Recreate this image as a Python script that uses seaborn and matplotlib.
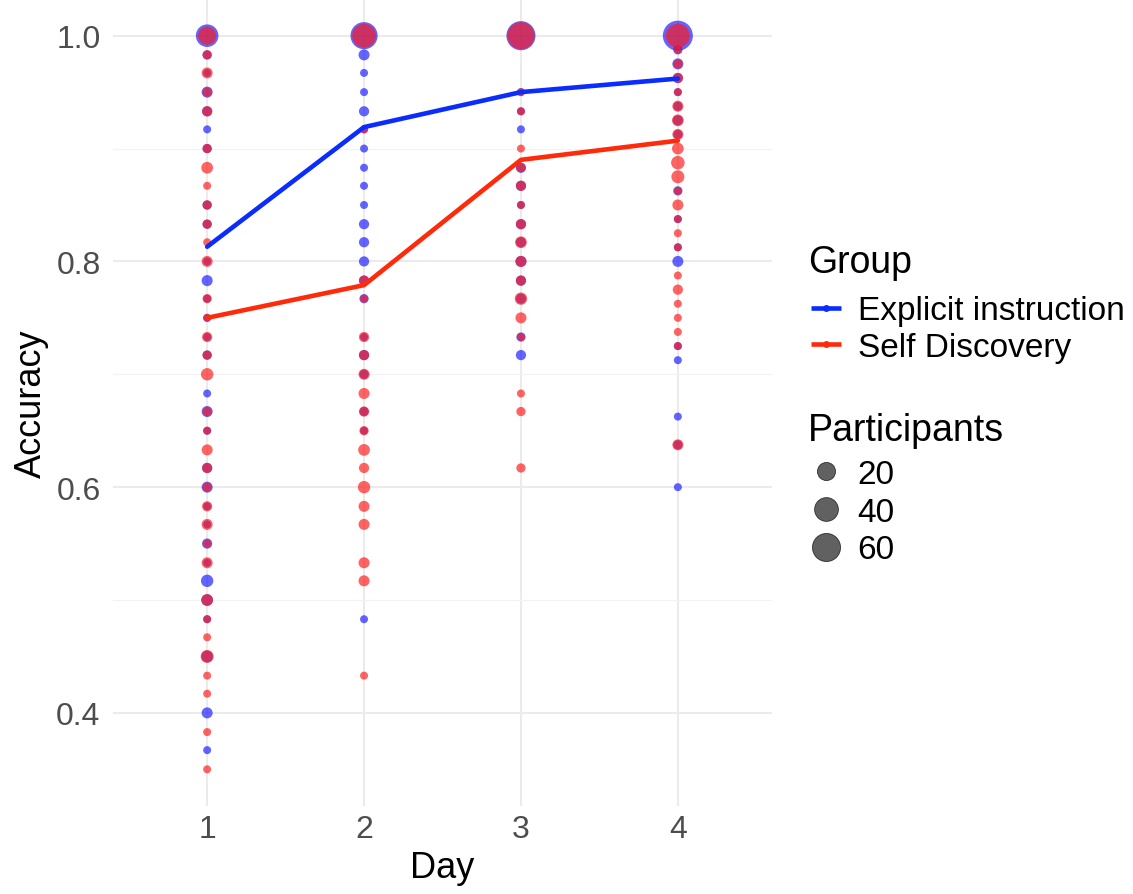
import numpy as np
import pandas as pd
import matplotlib
matplotlib.use("Agg")
import matplotlib.pyplot as plt
from matplotlib.lines import Line2D
import seaborn as sns

# ---- data -------------------------------------------------------------
groups = ["Explicit instruction", "Self Discovery"]
days = [1, 2, 3, 4]

# accuracy level and number of participants at that level, per group and day
ei_d1_acc = [1.0, .983, .967, .95, .933, .917, .9, .85, .833, .8, .783, .767, .75, .733, .717,
             .683, .667, .65, .617, .6, .583, .567, .55, .533, .517, .5, .483, .45, .4, .367]
ei_d1_n = [35, 3, 2, 5, 4, 2, 3, 3, 3, 2, 5, 2, 2, 2, 3, 2, 5, 2, 4, 5, 2, 2, 4, 2, 7, 6, 2, 6, 5, 2]

sd_d1_acc = [1.0, .983, .967, .95, .933, .9, .883, .867, .85, .833, .817, .8, .767, .75, .733, .717,
             .7, .667, .65, .633, .617, .6, .583, .567, .55, .533, .5, .483, .467, .45, .433, .417,
             .383, .35]
sd_d1_n = [20, 3, 5, 3, 4, 3, 6, 2, 3, 3, 2, 5, 3, 2, 4, 3, 7, 3, 2, 5, 4, 3, 4, 5, 2, 5, 6, 2, 2,
           8, 2, 2, 2, 2]

ei_d2_acc = [1.0, .983, .967, .95, .933, .917, .9, .883, .867, .85, .833, .817, .8, .783, .767,
             .733, .717, .7, .667, .65, .483]
ei_d2_n = [55, 5, 2, 2, 4, 2, 2, 2, 2, 2, 4, 4, 4, 4, 3, 2, 4, 3, 3, 2, 2]

sd_d2_acc = [1.0, .917, .783, .767, .733, .717, .7, .683, .667, .65, .633, .617, .6, .583, .567,
             .533, .517, .433]
sd_d2_n = [40, 2, 4, 2, 4, 4, 5, 5, 4, 3, 6, 4, 7, 5, 5, 5, 5, 2]

ei_d3_acc = [1.0, .95, .933, .917, .883, .867, .85, .833, .817, .8, .783, .767, .733, .717]
ei_d3_n = [65, 2, 2, 2, 4, 4, 2, 4, 4, 5, 4, 4, 3, 4]

sd_d3_acc = [1.0, .95, .933, .9, .883, .867, .85, .833, .817, .8, .783, .767, .75, .733, .683,
             .667, .617]
sd_d3_n = [55, 2, 2, 2, 3, 4, 2, 4, 6, 5, 4, 7, 5, 2, 2, 3, 3]

ei_d4_acc = [1.0, .9875, .975, .9625, .95, .9375, .925, .9125, .8625, .8375, .8125, .8, .725,
             .7125, .6625, .6375, .6]
ei_d4_n = [70, 3, 5, 4, 2, 3, 4, 3, 3, 2, 2, 5, 2, 2, 2, 3, 2]

sd_d4_acc = [1.0, .9875, .975, .9625, .95, .9375, .925, .9125, .9, .8875, .875, .8625, .85,
             .8375, .825, .8125, .7875, .775, .7625, .75, .7375, .725, .6375]
sd_d4_n = [40, 2, 3, 4, 2, 5, 6, 5, 6, 9, 8, 2, 5, 2, 2, 2, 2, 4, 2, 2, 2, 2, 5]

# mean accuracy per day
ei_mean = [0.813, 0.919, 0.950, 0.962]
sd_mean = [0.750, 0.779, 0.890, 0.907]

size_breaks = [20, 40, 60]

# ---- frames ------------------------------------------------------------
ei_sets = [(ei_d1_acc, ei_d1_n), (ei_d2_acc, ei_d2_n), (ei_d3_acc, ei_d3_n), (ei_d4_acc, ei_d4_n)]
sd_sets = [(sd_d1_acc, sd_d1_n), (sd_d2_acc, sd_d2_n), (sd_d3_acc, sd_d3_n), (sd_d4_acc, sd_d4_n)]

rows = []
for grp, sets in zip(groups, [ei_sets, sd_sets]):
    for day, (acc, n) in zip(days, sets):
        for a, c in zip(acc, n):
            rows.append({"Day": day, "Accuracy": a, "Participants": c, "Group": grp})
points = pd.DataFrame(rows)

means = pd.DataFrame({
    "Day": days * 2,
    "Accuracy": ei_mean + sd_mean,
    "Group": [groups[0]] * 4 + [groups[1]] * 4,
})

# ---- styling -------------------------------------------------------------
sns.set_theme(style="white")
plt.rcParams["font.family"] = ["Liberation Sans", "DejaVu Sans"]

line_colors = {groups[0]: "#0A2CFF", groups[1]: "#FF2A0A"}
dot_colors = {groups[0]: "#1A1AFF", groups[1]: "#FF1A1A"}

DPI = 100
W, H = 1133, 895
px_to_pt = 72.0 / DPI
cmin, cmax = 1, 70


def area_for(count):
    # area-style size scale: diameter 1..6 units, ~5 px per unit
    d_px = 5.0 * (1 + 5 * np.sqrt((count - cmin) / (cmax - cmin)))
    return (d_px * px_to_pt) ** 2


size_map = {c: area_for(c) for c in sorted(points["Participants"].unique())}

fig = plt.figure(figsize=(W / DPI, H / DPI), dpi=DPI)
ax = fig.add_axes([113 / W, 1 - 807 / H, (772 - 113) / W, 807 / H])

sns.scatterplot(data=points, x="Day", y="Accuracy", hue="Group", size="Participants",
                palette=dot_colors, sizes=size_map, alpha=0.68, linewidth=0,
                legend=False, ax=ax, zorder=2)
sns.lineplot(data=means, x="Day", y="Accuracy", hue="Group", palette=line_colors,
             linewidth=3.3, legend=False, ax=ax, zorder=3)

ax.set_xlim(0.4, 4.6)
ax.set_ylim(0.3175, 1.0325)
ax.set_xticks(days)
ax.set_yticks([0.4, 0.6, 0.8, 1.0])
ax.set_yticks([0.5, 0.7, 0.9], minor=True)
ax.set_yticklabels(["0.4", "0.6", "0.8", "1.0"])
ax.grid(True, which="major", color="#EBEBEB", linewidth=1.5, zorder=0)
ax.grid(True, which="minor", axis="y", color="#F2F2F2", linewidth=0.9, zorder=0)
ax.set_axisbelow(True)
for sp in ax.spines.values():
    sp.set_visible(False)
ax.tick_params(axis="both", which="both", length=0, labelsize=23, colors="#4D4D4D")
ax.tick_params(axis="y", pad=9)
ax.tick_params(axis="x", pad=6)
ax.set_xlabel("Day", fontsize=26, color="black", labelpad=4)
ax.set_ylabel("Accuracy", fontsize=26, color="black", labelpad=5)

# ---- legends -------------------------------------------------------------
fig.text(808 / W, 1 - 263 / H, "Group", fontsize=27, color="black", ha="left", va="center")
fig.text(808 / W, 1 - 431 / H, "Participants", fontsize=27, color="black", ha="left",
         va="center")

grp_handles = [Line2D([0], [0], color=line_colors[g], lw=3.3, marker="o", markersize=5,
                      markeredgewidth=0, solid_capstyle="butt") for g in groups]
fig.legend(grp_handles, groups, loc="center left",
           bbox_to_anchor=(811 / W, 1 - 330 / H), frameon=False,
           fontsize=24, handlelength=0.9, handletextpad=0.5, labelcolor="black",
           labelspacing=0.17, borderaxespad=0, borderpad=0)

size_handles = [Line2D([0], [0], linestyle="none", marker="o",
                       markersize=np.sqrt(area_for(b)), markerfacecolor=(0, 0, 0, 0.62),
                       markeredgecolor=(0, 0, 0, 0.7), markeredgewidth=0.6)
                for b in size_breaks]
fig.legend(size_handles, [str(b) for b in size_breaks], loc="center left",
           bbox_to_anchor=(811 / W, 1 - 513 / H), frameon=False,
           fontsize=24, handlelength=0.9, handletextpad=0.5, labelcolor="black",
           labelspacing=0.2, borderaxespad=0, borderpad=0)

fig.savefig("out.png", dpi=DPI, facecolor="white")
